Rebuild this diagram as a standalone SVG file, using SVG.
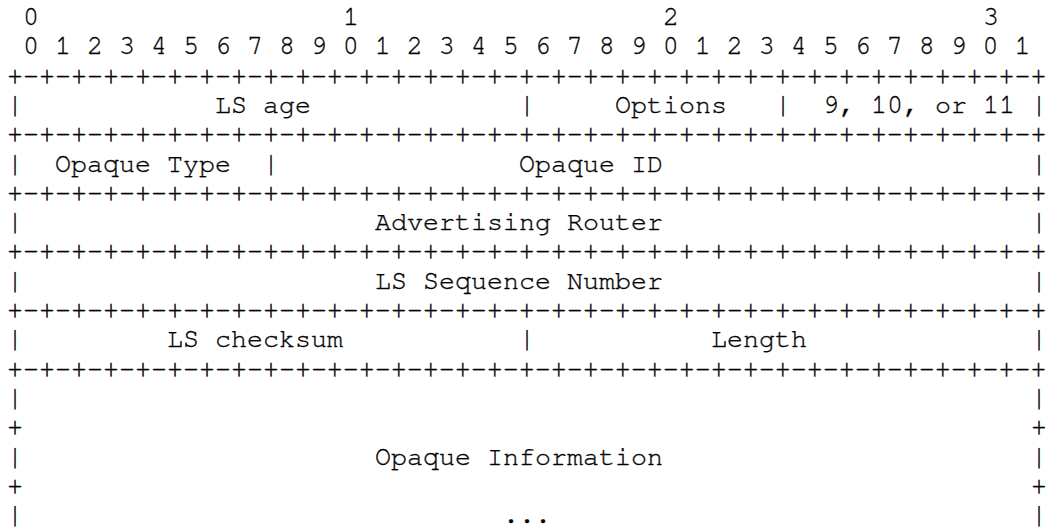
<svg xmlns="http://www.w3.org/2000/svg" width="1045" height="529" viewBox="0 0 1045 529">
  <style>
    text { font-family: "Nimbus Mono PS", "FreeMono", "Courier New", "Liberation Mono", monospace; font-size: 26.67px; fill: #000; stroke: #000; stroke-width: 0.35px; }
    .layer { opacity: 0.99; }
  </style>
  <rect x="0" y="0" width="1045" height="529" fill="#ffffff"/>
  <g class="layer">
  <g id="bit-ruler">
    <text x="23" y="24.8">0</text>
    <text x="343" y="24.8">1</text>
    <text x="663" y="24.8">2</text>
    <text x="983" y="24.8">3</text>
    <text x="23" y="54.1">0 1 2 3 4 5 6 7 8 9 0 1 2 3 4 5 6 7 8 9 0 1 2 3 4 5 6 7 8 9 0 1</text>
  </g>

  <g id="borders">
    <text x="7" y="83.5">+-+-+-+-+-+-+-+-+-+-+-+-+-+-+-+-+-+-+-+-+-+-+-+-+-+-+-+-+-+-+-+-+</text>
    <text x="7" y="142.1">+-+-+-+-+-+-+-+-+-+-+-+-+-+-+-+-+-+-+-+-+-+-+-+-+-+-+-+-+-+-+-+-+</text>
    <text x="7" y="200.8">+-+-+-+-+-+-+-+-+-+-+-+-+-+-+-+-+-+-+-+-+-+-+-+-+-+-+-+-+-+-+-+-+</text>
    <text x="7" y="259.4">+-+-+-+-+-+-+-+-+-+-+-+-+-+-+-+-+-+-+-+-+-+-+-+-+-+-+-+-+-+-+-+-+</text>
    <text x="7" y="318.1">+-+-+-+-+-+-+-+-+-+-+-+-+-+-+-+-+-+-+-+-+-+-+-+-+-+-+-+-+-+-+-+-+</text>
    <text x="7" y="376.8">+-+-+-+-+-+-+-+-+-+-+-+-+-+-+-+-+-+-+-+-+-+-+-+-+-+-+-+-+-+-+-+-+</text>
    <!-- left edge -->
    <text x="7" y="112.8">|</text>
    <text x="7" y="171.5">|</text>
    <text x="7" y="230.1">|</text>
    <text x="7" y="288.8">|</text>
    <text x="7" y="347.4">|</text>
    <text x="7" y="406.1">|</text>
    <text x="7" y="435.4">+</text>
    <text x="7" y="464.8">|</text>
    <text x="7" y="494.1">+</text>
    <text x="7" y="523.4">|</text>
    <!-- right edge -->
    <text x="1031" y="112.8">|</text>
    <text x="1031" y="171.5">|</text>
    <text x="1031" y="230.1">|</text>
    <text x="1031" y="288.8">|</text>
    <text x="1031" y="347.4">|</text>
    <text x="1031" y="406.1">|</text>
    <text x="1031" y="435.4">+</text>
    <text x="1031" y="464.8">|</text>
    <text x="1031" y="494.1">+</text>
    <text x="1031" y="523.4">|</text>
    <!-- inner dividers -->
    <text x="519" y="112.8">|</text>
    <text x="775" y="112.8">|</text>
    <text x="263" y="171.5">|</text>
    <text x="519" y="347.4">|</text>
  </g>

  <g id="field-ls-age"><text x="215" y="112.8">LS age</text></g>
  <g id="field-options"><text x="615" y="112.8">Options</text></g>
  <g id="field-ls-type"><text x="823" y="112.8">9, 10, or 11</text></g>
  <g id="field-opaque-type"><text x="55" y="171.5">Opaque Type</text></g>
  <g id="field-opaque-id"><text x="519" y="171.5">Opaque ID</text></g>
  <g id="field-advertising-router"><text x="375" y="230.1">Advertising Router</text></g>
  <g id="field-ls-sequence"><text x="375" y="288.8">LS Sequence Number</text></g>
  <g id="field-ls-checksum"><text x="167" y="347.4">LS checksum</text></g>
  <g id="field-length"><text x="711" y="347.4">Length</text></g>
  <g id="field-opaque-information">
    <text x="375" y="464.8">Opaque Information</text>
    <text x="503" y="523.4">...</text>
  </g>
  </g>
</svg>
